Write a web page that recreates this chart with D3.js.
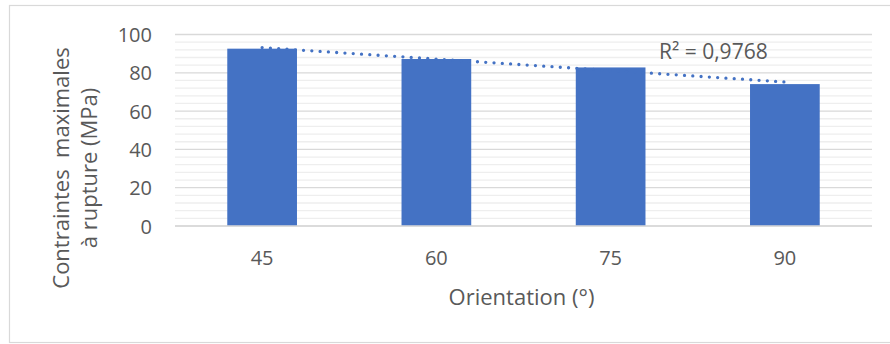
<!DOCTYPE html>
<html>
<head>
<meta charset="utf-8">
<script src="https://cdn.jsdelivr.net/npm/d3@7"></script>
<style>
  html, body { margin: 0; padding: 0; background: #fff; }
  svg { display: block; }
  text { font-family: "Open Sans", sans-serif; fill: #595959; }
</style>
</head>
<body>
<script>
const categories = ["45", "60", "75", "90"];
const values = [92.6, 87.2, 82.8, 74.1];
const yTicks = [0, 20, 40, 60, 80, 100];
const minorTicks = d3.range(0, 101, 4);
const r2Label = "R² = 0,9768";
const xTitle = "Orientation (°)";
const yTitleLines = ["Contraintes  maximales", "à rupture (MPa)"];

const W = 890, H = 344;
const svg = d3.select("body").append("svg").attr("width", W).attr("height", H);

// chart border
svg.append("rect").attr("x", 9.5).attr("y", 5.5).attr("width", W + 10).attr("height", 337)
  .attr("fill", "#fff").attr("stroke", "#D9D9D9").attr("stroke-width", 1.2);

const pLeft = 175, pRight = 872, pTop = 34.5, pBottom = 226;
const x = d3.scaleBand().domain(categories).range([pLeft, pRight]).paddingInner(0.6).paddingOuter(0.3);
const y = d3.scaleLinear().domain([0, 100]).range([pBottom, pTop]);

// minor gridlines
svg.append("g").selectAll("line").data(minorTicks.filter(t => t % 20 !== 0)).join("line")
  .attr("x1", pLeft).attr("x2", pRight).attr("y1", d => y(d)).attr("y2", d => y(d))
  .attr("stroke", "#EEEEEE").attr("stroke-width", 1.3);

// major gridlines
svg.append("g").selectAll("line").data(yTicks).join("line")
  .attr("x1", pLeft).attr("x2", pRight).attr("y1", d => y(d)).attr("y2", d => y(d))
  .attr("stroke", "#D9D9D9").attr("stroke-width", 1.3);

// y axis labels
const yAxis = d3.axisLeft(y).tickValues(yTicks).tickSize(0).tickPadding(0);
const gy = svg.append("g").attr("transform", `translate(152,0)`).call(yAxis);
gy.select(".domain").remove();
gy.selectAll("text").style("font-size", "20px").attr("fill", "#595959").attr("dy", "0.35em")
  .style("font-family", "'Open Sans', sans-serif");

// bars
svg.append("g").selectAll("rect").data(values).join("rect")
  .attr("x", (d, i) => x(categories[i]))
  .attr("width", x.bandwidth())
  .attr("y", d => y(d))
  .attr("height", d => y(0) - y(d))
  .attr("fill", "#4472C4");

// x axis line
svg.append("line").attr("x1", pLeft).attr("x2", pRight).attr("y1", y(0)).attr("y2", y(0))
  .attr("stroke", "#D9D9D9").attr("stroke-width", 1.3);

// x axis labels
const xAxis = d3.axisBottom(x).tickSize(0).tickPadding(0);
const gx = svg.append("g").attr("transform", `translate(0,265)`).call(xAxis);
gx.select(".domain").remove();
gx.selectAll("text").style("font-size", "20px").attr("fill", "#595959").attr("dy", 0)
  .style("font-family", "'Open Sans', sans-serif");

// linear trendline (least squares over category index)
const n = values.length;
const xs = d3.range(1, n + 1);
const mx = d3.mean(xs), my = d3.mean(values);
const slope = d3.sum(xs.map((xi, i) => (xi - mx) * (values[i] - my))) / d3.sum(xs.map(xi => (xi - mx) ** 2));
const icpt = my - slope * mx;
const trendPts = [categories[0], categories[n - 1]].map((c, k) => {
  const xi = k === 0 ? 1 : n;
  return [x(c) + x.bandwidth() / 2, y(icpt + slope * xi)];
});
svg.append("path").attr("d", d3.line()(trendPts))
  .attr("fill", "none").attr("stroke", "#4472C4").attr("stroke-width", 3.3)
  .attr("stroke-linecap", "round").attr("stroke-dasharray", "0 8.3");

// R² label
svg.append("text").attr("x", 659).attr("y", 59).text(r2Label)
  .style("font-size", "21px");

// x title
svg.append("text").attr("x", (pLeft + pRight) / 2 - 2).attr("y", 305).attr("text-anchor", "middle")
  .text(xTitle).style("font-size", "22px");

// y title
const yt = svg.append("text").attr("transform", "translate(0,168) rotate(-90)").attr("text-anchor", "middle")
  .style("font-size", "22px");
yTitleLines.forEach((t, i) => {
  yt.append("tspan").attr("x", 0).attr("y", i === 0 ? 69 : 97).text(t).style("white-space", "pre");
});
</script>
</body>
</html>
